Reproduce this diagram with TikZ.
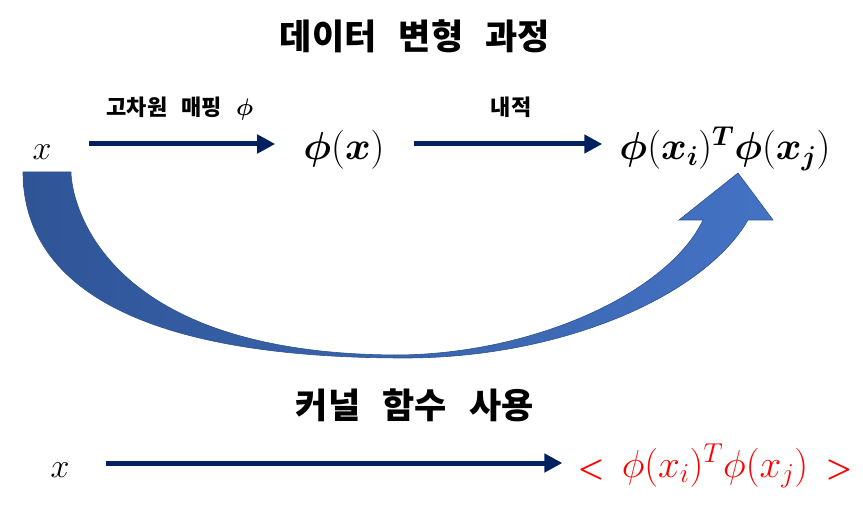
\RequirePackage{fix-cm}
\documentclass[tikz,border=0pt]{standalone}
\usepackage{amsmath,bm}
\usepackage{fontspec}
\newfontfamily\kr{Noto Sans CJK KR}[WordSpace=2.8]
\usetikzlibrary{arrows.meta}
\definecolor{navy}{HTML}{002060}
\definecolor{curvedark}{HTML}{2F5597}
\definecolor{curvelight}{HTML}{4472C4}
\definecolor{curveline}{HTML}{2F528F}
\definecolor{kred}{HTML}{FF0000}

\begin{document}
\begin{tikzpicture}[x=1pt, y=-1pt,
  title/.style={font=\kr\bfseries\fontsize{35}{41}\selectfont, anchor=base},
  lab/.style={font=\kr\bfseries\fontsize{22}{26}\selectfont, anchor=base},
  var/.style={font=\fontsize{34}{40}\selectfont, anchor=base, inner sep=0pt},
  expr/.style={font=\fontsize{39}{46}\selectfont, anchor=base, inner sep=0pt},
  arr/.style={draw=navy, line width=5pt, -{Triangle[length=18pt,width=18pt]}},
]
\useasboundingbox (0,0) rectangle (863,505);

% ── Upper part: data transform ──────────────────────────────────────
\node[title] (ttop) at (415,50) {데이터 변형 과정};
\node[var] (xa) at (42,160) {$x$};
\node[expr] (phix) at (344,160) {$\bm{\phi}(\bm{x})$};
\node[expr] (prod) at (725,160) {$\bm{\phi}(\bm{x}_{\bm{i}})^{\bm{T}}\bm{\phi}(\bm{x}_{\bm{j}})$};

\draw[arr, shorten <=37pt, shorten >=28pt] ([yshift=16pt]xa.base east) -- ([yshift=16pt]phix.base west);
\draw[arr, shorten <=29pt, shorten >=17pt] ([yshift=16pt]phix.base east) -- ([yshift=16pt]prod.base west);
\node[lab] (lmap) at (180,116) {고차원 매핑 {\fontsize{24}{27}\selectfont$\bm{\phi}$}};
\node[lab] (linner) at (511,116) {내적};

% curved block arrow (shortcut)
\path[left color=curvedark, right color=curvelight, draw=curveline, line width=0.6pt]
  (23,172) .. controls (23,244) and (70,358) .. (405,358)
  .. controls (560,358) and (703,297) .. (748,220)
  -- (773,220) -- (738,173) -- (679,220) -- (703,220)
  .. controls (670,290) and (540,353) .. (400,355)
  .. controls (95,355) and (71,195) .. (71,172) -- cycle;

% ── Lower part: kernel function ─────────────────────────────────────
\node[title] (tbot) at (415,418) {커널 함수 사용};
\node[var] (xb) at (60,477) {$x$};
\node[expr, text=kred] (kern) at (715,477)
  {{\fontsize{30}{34}\selectfont$\bm{<}$}\;\,$\phi(x_i)^T\phi(x_j)$\;\,{\fontsize{30}{34}\selectfont$\bm{>}$}};
\draw[arr, shorten <=36pt, shorten >=15pt] ([yshift=14pt]xb.base east) -- ([yshift=14pt]kern.base west);

\end{tikzpicture}
\end{document}
